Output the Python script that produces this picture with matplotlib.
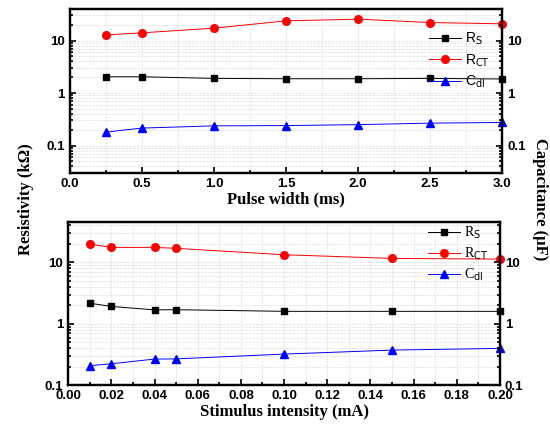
import matplotlib
matplotlib.use("Agg")
import matplotlib.pyplot as plt
from matplotlib.ticker import MultipleLocator, LogLocator, FixedLocator, NullFormatter

# ---------- data ----------
pulse_width = [0.25, 0.5, 1.0, 1.5, 2.0, 2.5, 3.0]
pw_rs = [2.04, 2.04, 1.9, 1.87, 1.87, 1.9, 1.85]
pw_rct = [12.8, 14.0, 17.2, 23.7, 25.5, 22.0, 20.8]
pw_cdl = [0.18, 0.215, 0.237, 0.24, 0.25, 0.267, 0.275]

stim = [0.01, 0.02, 0.04, 0.05, 0.10, 0.15, 0.20]
st_rs = [2.17, 1.92, 1.69, 1.70, 1.60, 1.60, 1.60]
st_rct = [19.8, 17.5, 17.5, 16.9, 13.3, 11.6, 11.3]
st_cdl = [0.209, 0.225, 0.268, 0.27, 0.323, 0.375, 0.40]

SANS = "Liberation Sans"
SERIF = "Liberation Serif"

fig = plt.figure(figsize=(5.5, 4.24), dpi=100)
ax1 = fig.add_axes([0.127, 0.592, 0.786, 0.387])
ax2 = fig.add_axes([0.124, 0.091, 0.785, 0.385])


def style_axis(ax, xlim, ylim, xmajor, xminor, xlabel, xfmt):
    ax.set_yscale("log")
    ax.set_xlim(*xlim)
    ax.set_ylim(*ylim)
    ax.xaxis.set_major_locator(MultipleLocator(xmajor))
    ax.xaxis.set_minor_locator(MultipleLocator(xminor))
    ax.yaxis.set_major_locator(FixedLocator([0.1, 1, 10]))
    ax.yaxis.set_minor_locator(LogLocator(base=10, subs=range(2, 10), numticks=20))
    ax.yaxis.set_minor_formatter(NullFormatter())
    ax.set_yticklabels(["0.1", "1", "10"])
    ax.set_xticklabels([xfmt.format(v) for v in ax.get_xticks()])
    ax.grid(True, which="both", color="#dddddd", linestyle="--", linewidth=0.5)
    ax.set_axisbelow(True)
    for s in ax.spines.values():
        s.set_linewidth(1.6)
    ax.tick_params(which="both", direction="in", width=1.2, top=False, right=True,
                   labelsize=9.5)
    ax.tick_params(which="major", length=4)
    ax.tick_params(which="minor", length=2.5)
    for lab in ax.get_xticklabels() + ax.get_yticklabels():
        lab.set_fontfamily(SANS)
        lab.set_fontweight("bold")
    ax.set_xlabel(xlabel, fontfamily=SERIF, fontweight="bold", fontsize=12, labelpad=1)
    # right axis carries the same labels
    axr = ax.twinx()
    axr.set_yscale("log")
    axr.set_ylim(*ylim)
    axr.yaxis.set_major_locator(FixedLocator([0.1, 1, 10]))
    axr.yaxis.set_minor_locator(LogLocator(base=10, subs=range(2, 10), numticks=20))
    axr.yaxis.set_minor_formatter(NullFormatter())
    axr.set_yticklabels(["0.1", "1", "10"])
    axr.tick_params(which="both", direction="in", width=1.2, labelsize=9.5)
    axr.tick_params(which="major", length=4)
    axr.tick_params(which="minor", length=2.5)
    for lab in axr.get_yticklabels():
        lab.set_fontfamily(SANS)
        lab.set_fontweight("bold")
    for s in axr.spines.values():
        s.set_linewidth(1.6)
    return axr


def plot_series(ax, x, rs, rct, cdl, legend_font, leg_anchor):
    ax.plot(x, rs, color="black", marker="s", markersize=4.5, linewidth=0.7, label=r"R$_{\mathrm{S}}$")
    ax.plot(x, rct, color="red", marker="o", markersize=5.5, linewidth=0.7, label=r"R$_{\mathrm{CT}}$")
    ax.plot(x, cdl, color="blue", marker="^", markersize=6, linewidth=0.7, label=r"C$_{\mathrm{dl}}$")
    for l in ax.lines:
        l.set_clip_on(False)
    leg = ax.legend(loc="upper right", bbox_to_anchor=leg_anchor, frameon=False,
                    handlelength=2.3, handletextpad=0.3, labelspacing=0.35,
                    borderaxespad=0.0, prop={"family": legend_font, "size": 10})
    return leg


plot_series(ax1, pulse_width, pw_rs, pw_rct, pw_cdl, SANS, (0.985, 0.9))
style_axis(ax1, (0.0, 3.0), (0.03, 40), 0.5, 0.25, "Pulse width (ms)", "{:.1f}")

plot_series(ax2, stim, st_rs, st_rct, st_cdl, SERIF, (0.985, 1.02))
style_axis(ax2, (0.0, 0.2), (0.1, 45), 0.02, 0.01, "Stimulus intensity (mA)", "{:.2f}")

fig.text(0.048, 0.53, "Resistivity (k\u03a9)", rotation=90, ha="center", va="center",
         fontfamily=SERIF, fontweight="bold", fontsize=12)
fig.text(0.982, 0.53, "Capacitance (\u03bcF)", rotation=270, ha="center", va="center",
         fontfamily=SERIF, fontweight="bold", fontsize=12)

fig.savefig("out.png", dpi=100)
